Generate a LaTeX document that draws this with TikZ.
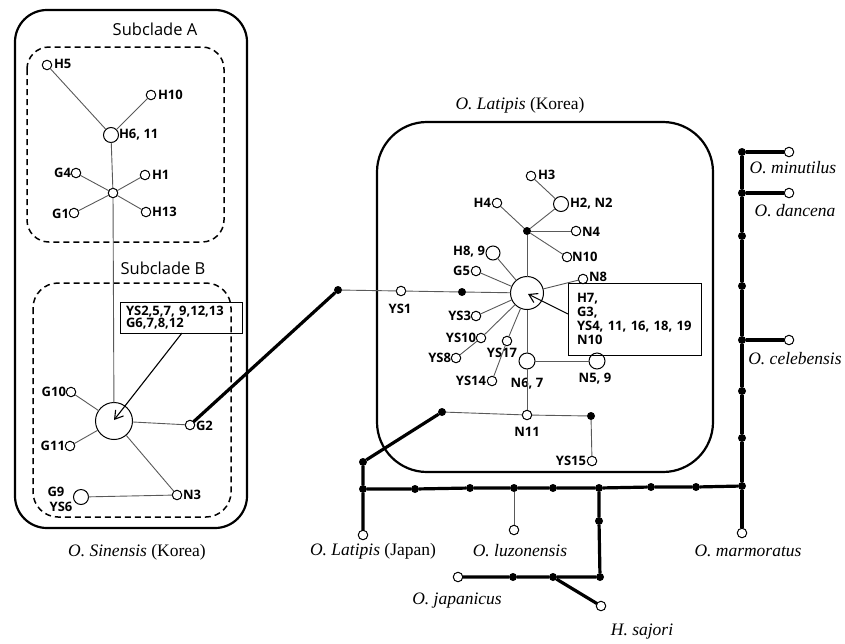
\documentclass[tikz,border=0pt]{standalone}
\usepackage{fontspec}
\setmainfont{Liberation Serif}
\newfontfamily\labfont{Open Sans}
\usetikzlibrary{arrows.meta}
\begin{document}
\begin{tikzpicture}[x=1pt,y=-1pt,
  every node/.style={inner sep=0pt,outer sep=0pt},
  ov/.style={circle,draw,fill=white,line width=1pt,minimum size=9.5pt},
  ovb/.style={ov,minimum size=15pt},
  dot/.style={circle,fill=black,minimum size=8pt},
  lab/.style={font=\labfont\bfseries\fontsize{13}{14.5}\selectfont},
  sub/.style={font=\labfont\fontsize{16.5}{19}\selectfont},
  sp/.style={font=\fontsize{17.5}{20}\selectfont},
  tl/.style={draw=black!65,line width=0.9pt},
  bb/.style={draw=black,line width=3.2pt},
  outerbox/.style={draw,line width=2.2pt},
  dbox/.style={draw,line width=1.5pt,dash pattern=on 6pt off 4pt},
  arr/.style={draw,line width=1.1pt,-{Straight Barb[length=8pt,width=10pt,line width=1.1pt]}}
]
\useasboundingbox (0,0) rectangle (845,643);

% ---------- left group ----------
\draw[outerbox,rounded corners=32pt] (15,10) rectangle (247,528);
\draw[dbox,rounded corners=22pt] (27,47) rectangle (224,242);
\draw[dbox,rounded corners=25pt] (33,283) rectangle (231,517);
\node[sub] (tA) at (155,29) {Subclade A};
\node[sub] (tB) at (163,268) {Subclade B};

\node[ov] (H5) at (47,65) {};
\node[ov] (H10) at (151,95) {};
\node[ovb] (H611) at (111,135) {};
\node[ov] (hubA) at (113,193) {};
\node[ov] (G4) at (76,173) {};
\node[ov] (H1) at (145,175) {};
\node[ov] (G1) at (74,213) {};
\node[ov] (H13) at (146,212) {};
\node[ov,minimum size=37pt] (bigB) at (114,421) {};
\node[ov] (G10) at (71,392) {};
\node[ov] (G11) at (70,446) {};
\node[ov] (G2) at (190,425) {};
\node[ov] (N3) at (177,495) {};
\node[ovb] (G9) at (81,497) {};

\node[lab,anchor=west] (lH5) at (54,64) {H5};
\node[lab,anchor=west] (lH10) at (158,95) {H10};
\node[lab,anchor=west] (lH611) at (119,135) {H6, 11};
\node[lab,anchor=east] (lG4) at (71,173) {G4};
\node[lab,anchor=west] (lH1) at (152,175) {H1};
\node[lab,anchor=east] (lG1) at (69,214) {G1};
\node[lab,anchor=west] (lH13) at (152,212) {H13};
\node[lab,anchor=east] (lG10) at (66,392) {G10};
\node[lab,anchor=east] (lG11) at (65,446) {G11};
\node[lab,anchor=west] (lG2) at (196,426) {G2};
\node[lab,anchor=west] (lN3) at (183,495) {N3};
\node[lab] (lG9) at (56,492) {G9};
\node[lab] (lYS6) at (61,507) {YS6};

\node[lab,draw,line width=0.9pt,align=left,text width=110pt,inner xsep=6pt,minimum height=31pt,anchor=north west] (boxB) at (120,302)
  {YS2,5,7, 9,12,13\\[-3pt]G6,7,8,12};

\draw[tl] (H5) -- (H611) -- (H10);
\draw[tl] (H611) -- (hubA);
\draw[tl] (G4) -- (hubA) -- (H13);
\draw[tl] (G1) -- (hubA) -- (H1);
\draw[tl] (hubA) -- (bigB);
\draw[tl] (G10) -- (bigB) -- (G11);
\draw[tl] (bigB) -- (G2);
\draw[tl] (bigB) -- (N3) -- (G9);
\coordinate (aB) at (182,333);
\draw[arr] (aB) -- (114,420);

% ---------- middle group ----------
\draw[outerbox,rounded corners=50pt] (377,122) rectangle (713,472);
\node[sp] (tK) at (520,105) {\textit{O. Latipis} (Korea)};

\node[ov,minimum size=33pt] (C) at (527,293) {};
\node[dot] (dL) at (338,290) {};
\node[ov] (YS1) at (401,291) {};
\node[dot] (d1) at (462,292) {};
\node[dot] (dU) at (527,231) {};
\node[ov] (H4) at (497,203) {};
\node[ovb] (H2N2) at (561,204) {};
\node[ov] (H3) at (531,176) {};
\node[ov] (N4) at (576,231) {};
\node[ov] (N10) at (567,257) {};
\node[ov,minimum size=14pt] (H89) at (493,253) {};
\node[ov] (G5) at (476,271) {};
\node[ov] (N8) at (583,279) {};
\node[ov] (YS3) at (476,316) {};
\node[ov] (YS10) at (481,338) {};
\node[ov] (YS8) at (456,358) {};
\node[ov] (YS17) at (507,341) {};
\node[ov] (YS14) at (492,381) {};
\node[ov,minimum size=16pt] (N67) at (527,361) {};
\node[ov,minimum size=16pt] (N59) at (597,361) {};
\node[ov] (N11) at (527,415) {};
\node[dot] (dL2) at (442,412) {};
\node[dot] (dR2) at (591,416) {};
\node[ov] (YS15) at (592,461) {};

\node[lab] (lYS1) at (400,309) {YS1};
\node[lab,anchor=east] (lH4) at (491,203) {H4};
\node[lab,anchor=west] (lH2) at (570,204) {H2, N2};
\node[lab,anchor=west] (lH3) at (538,175) {H3};
\node[lab,anchor=west] (lN4) at (582,232) {N4};
\node[lab,anchor=west] (lN10) at (572,257) {N10};
\node[lab,anchor=east] (lH89) at (485,252) {H8, 9};
\node[lab,anchor=east] (lG5) at (470,271) {G5};
\node[lab,anchor=west] (lN8) at (589,277) {N8};
\node[lab,anchor=east] (lYS3) at (471,316) {YS3};
\node[lab,anchor=east] (lYS10) at (476,338) {YS10};
\node[lab,anchor=east] (lYS8) at (451,358) {YS8};
\node[lab] (lYS17) at (502,353) {YS17};
\node[lab,anchor=east] (lYS14) at (486,381) {YS14};
\node[lab] (lN67) at (527,384) {N6, 7};
\node[lab] (lN59) at (595,379) {N5, 9};
\node[lab] (lN11) at (527,432) {N11};
\node[lab,anchor=east] (lYS15) at (586,461) {YS15};

\node[lab,draw,line width=0.9pt,align=left,text width=115pt,inner xsep=9pt,minimum height=72pt,anchor=north west] (boxC) at (568,283)
  {H7,\\[-0.5pt]G3,\\[-0.5pt]YS4, 11, 16, 18, 19\\[-0.5pt]N10};

\draw[bb] (G2) -- (dL);
\draw[tl] (dL) -- (YS1) -- (d1) -- (C);
\draw[tl] (C) -- (dU);
\draw[tl] (H4) -- (dU) -- (H2N2) -- (H3);
\draw[tl] (dU) -- (N4);
\draw[tl] (dU) -- (N10);
\draw[tl] (C) -- (H89);
\draw[tl] (C) -- (G5);
\draw[tl] (C) -- (N8);
\draw[tl] (C) -- (YS3);
\draw[tl] (C) -- (YS10) -- (YS8);
\draw[tl] (C) -- (YS17) -- (YS14);
\draw[tl] (C) -- (N67) -- (N59);
\draw[tl] (N67) -- (N11);
\draw[tl] (dL2) -- (N11) -- (dR2) -- (YS15);
\coordinate (aC) at (568,314);
\draw[arr] (aC) -- (528,294);

% ---------- backbone ----------
\node[dot] (b1) at (363,462) {};
\node[dot] (b2) at (363,489) {};
\node[ov] (jp) at (363,535) {};
\node[dot] (h1) at (415,489) {};
\node[dot] (h2) at (470,488) {};
\node[dot] (h3) at (514,488) {};
\node[dot] (h4) at (553,488) {};
\node[dot] (h5) at (599,488) {};
\node[dot] (h6) at (651,487) {};
\node[dot] (h7) at (696,487) {};
\node[dot] (h8) at (742,486) {};
\node[ov] (luz) at (514,530) {};
\node[dot] (v1) at (599,521) {};
\node[dot] (v2) at (600,577) {};
\node[dot] (j2) at (553,577) {};
\node[dot] (j1) at (513,577) {};
\node[ov] (jap) at (458,577) {};
\node[ov] (saj) at (601,606) {};
\node[ov] (mar) at (742,533) {};
\node[dot] (r7) at (742,438) {};
\node[dot] (r6) at (742,391) {};
\node[dot] (r5) at (742,340) {};
\node[dot] (r4) at (742,286) {};
\node[dot] (r3) at (742,236) {};
\node[dot] (r2) at (742,193) {};
\node[dot] (r1) at (742,152) {};
\node[ov] (min) at (789,152) {};
\node[ov] (dan) at (789,193) {};
\node[ov] (cel) at (789,340) {};

\draw[bb] (dL2) -- (b1) -- (b2) -- (jp);
\draw[bb] (b2) -- (h1) -- (h2) -- (h3) -- (h4) -- (h5) -- (h6) -- (h7) -- (h8);
\draw[tl] (h3) -- (luz);
\draw[bb] (h5) -- (v1) -- (v2) -- (j2) -- (j1) -- (jap);
\draw[bb] (j2) -- (saj);
\draw[bb] (h8) -- (mar);
\draw[bb] (h8) -- (r7) -- (r6) -- (r5) -- (r4) -- (r3) -- (r2) -- (r1);
\draw[bb] (r1) -- (min);
\draw[bb] (r2) -- (dan);
\draw[bb] (r5) -- (cel);

\node[sp] (lmin) at (793,168) {\textit{O. minutilus}};
\node[sp] (ldan) at (795,211) {\textit{O. dancena}};
\node[sp] (lcel) at (795,359) {\textit{O. celebensis}};
\node[sp] (lmar) at (748,551) {\textit{O. marmoratus}};
\node[sp] (ljp) at (373,551) {\textit{O. Latipis} (Japan)};
\node[sp] (lluz) at (520,551) {\textit{O. luzonensis}};
\node[sp] (ljap) at (457,601) {\textit{O. japanicus}};
\node[sp] (lsaj) at (642,632) {\textit{H. sajori}};
\node[sp] (lsin) at (137,552) {\textit{O. Sinensis} (Korea)};
\end{tikzpicture}
\end{document}
